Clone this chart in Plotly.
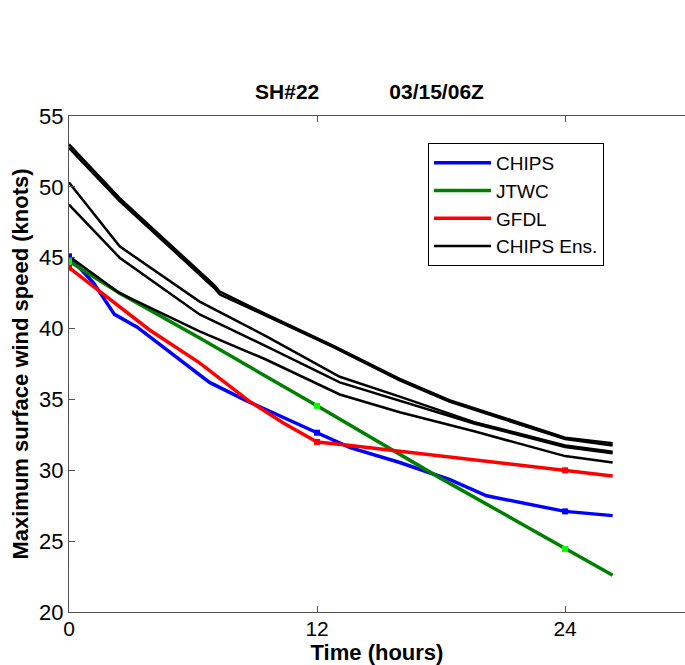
import plotly.graph_objects as go

# ---------------- data ----------------
chips_t = [0, 1.2, 2.2, 3.3, 6.8, 8.6, 12, 13.6, 16, 18.4, 20.2, 24, 26.3]
chips_v = [45.1, 43.2, 41.0, 40.1, 36.2, 34.9, 32.65, 31.6, 30.55, 29.35, 28.2, 27.1, 26.8]

jtwc_t = [0, 2.45, 6.3, 12, 17.9, 24, 26.3]
jtwc_v = [44.75, 42.5, 39.35, 34.55, 29.5, 24.45, 22.6]

gfdl_t = [0, 3.9, 6.3, 8.7, 10.35, 12, 13.3, 16, 18.4, 24, 26.3]
gfdl_v = [44.3, 39.9, 37.6, 34.9, 33.35, 32.0, 31.8, 31.35, 30.9, 30.0, 29.6]

ens_ab_t = [0, 2.45, 7.0, 7.3, 9.55, 12.77, 16, 18.4, 24, 26.3]
ens_a_v = [53.0, 49.2, 43.1, 42.6, 41.0, 38.8, 36.45, 34.95, 32.3, 31.9]
ens_b_v = [52.75, 49.0, 42.9, 42.4, 40.9, 38.7, 36.35, 34.85, 32.2, 31.75]

ens_cde_t = [0, 2.45, 6.32, 9.55, 13.1, 16, 19.6, 24, 26.3]
ens_c_v = [50.3, 45.8, 41.9, 39.45, 36.6, 35.2, 33.4, 31.75, 31.3]
ens_d_v = [48.75, 45.0, 41.0, 38.75, 36.2, 34.9, 33.3, 31.65, 31.2]
ens_e_v = [45.1, 42.5, 39.8, 37.8, 35.35, 34.1, 32.75, 31.0, 30.55]

marker_hours = [0, 12, 24]
x_ticks = [0, 12, 24]
x_range = [0, 29.8]
y_ticks = [20, 25, 30, 35, 40, 45, 50, 55]
y_range = [20, 55]

title_left = "SH#22"
title_right = "03/15/06Z"

FONT = "Liberation Sans, Arial, Helvetica, sans-serif"
AX = "#555555"

# figure / plot-area geometry (pixels)
FW, FH = 685, 665
L, T, W, H = 69, 116, 616, 496


def marks(ts, vs):
    pts = [(t, v) for t, v in zip(ts, vs) if t in marker_hours]
    return [p[0] for p in pts], [p[1] for p in pts]


fig = go.Figure()

series = [
    ("CHIPS", chips_t, chips_v, "#0000ff", "#0000ff"),
    ("JTWC", jtwc_t, jtwc_v, "#008000", "#00ff00"),
    ("GFDL", gfdl_t, gfdl_v, "#ff0000", "#ff0000"),
]
for name, ts, vs, col, mcol in series:
    fig.add_trace(go.Scatter(x=ts, y=vs, mode="lines", name=name,
                             line=dict(color=col, width=3.5)))

ens = [(ens_ab_t, ens_a_v), (ens_ab_t, ens_b_v), (ens_cde_t, ens_c_v),
       (ens_cde_t, ens_d_v), (ens_cde_t, ens_e_v)]
for i, (ts, vs) in enumerate(ens):
    fig.add_trace(go.Scatter(x=ts, y=vs, mode="lines", name="CHIPS Ens.",
                             legendgroup="ens", showlegend=(i == 0),
                             line=dict(color="black", width=2.5)))

for name, ts, vs, col, mcol in series:
    mx, my = marks(ts, vs)
    fig.add_trace(go.Scatter(x=mx, y=my, mode="markers", showlegend=False,
                             marker=dict(symbol="square", size=6, color=mcol)))

sp = "\u00a0" * 12
fig.update_layout(
    width=FW, height=FH,
    margin=dict(l=L, r=FW - L - W, t=T, b=FH - T - H, autoexpand=False),
    paper_bgcolor="white", plot_bgcolor="white",
    font=dict(family=FONT, color="black", size=22),
    showlegend=True,
    title=dict(text="<b>" + title_left + sp + title_right + "</b>",
               x=369.5 / FW, xanchor="center", xref="container",
               y=1 - 92 / FH, yanchor="middle", yref="container",
               font=dict(size=21, family=FONT, color="black")),
    legend=dict(x=(428 - L) / W, y=(T + H - 143) / H, xanchor="left", yanchor="top",
                xref="paper", yref="paper",
                bgcolor="white", bordercolor="black", borderwidth=1,
                font=dict(size=19, family=FONT, color="black"),
                itemwidth=57, tracegroupgap=0),
    xaxis=dict(range=x_range, tickvals=x_ticks, ticktext=[str(v) for v in x_ticks],
               showline=True, linecolor=AX, linewidth=1, mirror="ticks",
               ticks="inside", ticklen=6, tickcolor=AX, showgrid=False, zeroline=False,
               automargin=False, ticklabelstandoff=-2,
               tickfont=dict(size=21, family=FONT, color="black"),
               title=dict(text="<b>Time (hours)</b>", standoff=0,
                          font=dict(size=22, family=FONT, color="black"))),
    yaxis=dict(range=y_range, tickvals=y_ticks, ticktext=[str(v) for v in y_ticks],
               showline=True, linecolor=AX, linewidth=1, mirror=False,
               ticks="inside", ticklen=6, tickcolor=AX, showgrid=False, zeroline=False,
               automargin=False,
               tickfont=dict(size=22, family=FONT, color="black"),
               title=dict(text="<b>Maximum surface wind speed (knots)</b>", standoff=4,
                          font=dict(size=22, family=FONT, color="black"))),
    # right-hand tick marks only (the right frame edge lies outside the view)
    yaxis2=dict(range=y_range, tickvals=y_ticks, overlaying="y", side="right",
                anchor="x", showline=False, ticks="inside", ticklen=6, tickcolor=AX,
                showticklabels=False, showgrid=False, zeroline=False, automargin=False),
)

fig.write_html(
    "out.html",
    config={"displayModeBar": False},
    post_script="document.body.style.margin='0';document.body.style.overflow='hidden';",
)
